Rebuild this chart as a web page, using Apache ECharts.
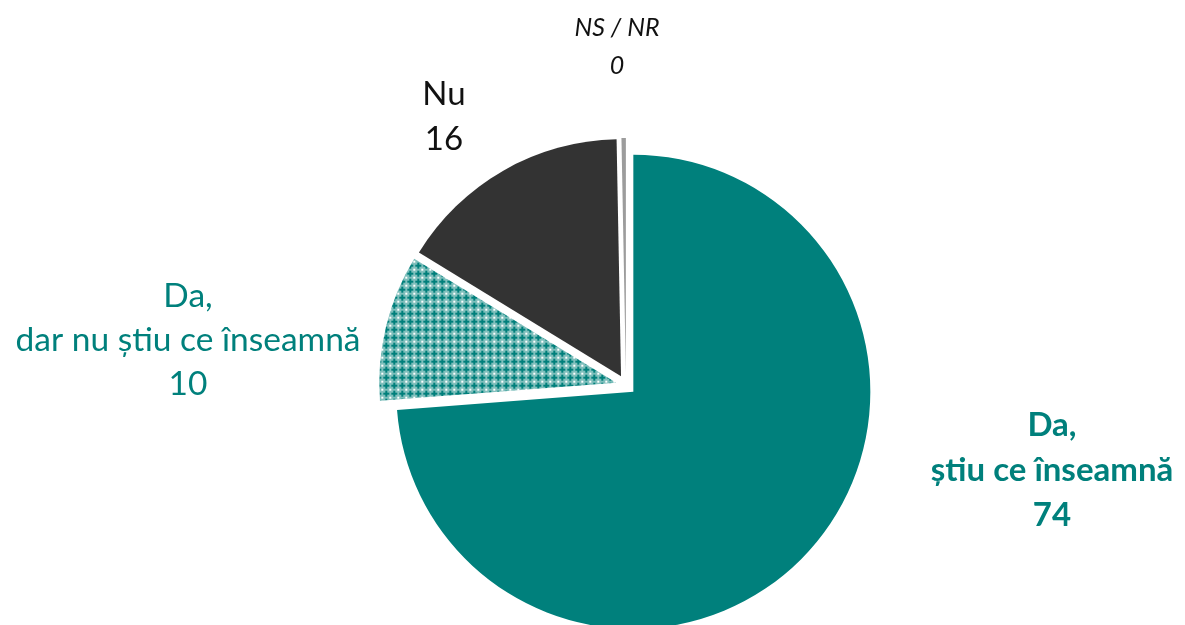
<!DOCTYPE html>
<html>
<head>
<meta charset="utf-8">
<script src="https://cdn.jsdelivr.net/npm/echarts@6/dist/echarts.min.js"></script>
<style>
	html, body { margin: 0; padding: 0; background: #fff; }
	#chart { width: 1185px; height: 625px; }
</style>
</head>
<body>
<div id="chart"></div>
<script>
// categories and values (percent)
const categories = ['Da,\nștiu ce înseamnă', 'Da,\ndar nu știu ce înseamnă', 'Nu', 'NS / NR']
const values = [74, 10, 16, 0.3]
const shownValues = [74, 10, 16, 0]

const TEAL = '#00807c'
const DARK = '#333333'
const GREY = '#9c9c9c'

// motif du secteur hachuré (carreaux)
function makePattern() {
	const c = document.createElement('canvas')
	c.width = 8
	c.height = 8
	const ctx = c.getContext('2d')
	ctx.fillStyle = '#7fbfbc'
	ctx.fillRect(0, 0, 8, 8)
	ctx.fillStyle = '#007f7b'
	ctx.fillRect(3, 1, 2, 6)
	ctx.fillRect(1, 3, 6, 2)
	ctx.fillStyle = '#ffffff'
	ctx.fillRect(0, 0, 1, 1)
	ctx.fillRect(7, 7, 1, 1)
	ctx.fillRect(0, 7, 1, 1)
	ctx.fillRect(7, 0, 1, 1)
	return c
}

const fills = [TEAL, { image: makePattern(), repeat: 'repeat' }, DARK, GREY]

// label styles
const labelStyles = [
	{ fill: TEAL, fontWeight: 'bold', fontSize: 33, lineHeight: 45, fontStyle: 'normal' },
	{ fill: TEAL, fontWeight: 'normal', fontSize: 33.5, lineHeight: 44, fontStyle: 'normal' },
	{ fill: '#111', fontWeight: 'normal', fontSize: 33, lineHeight: 45, fontStyle: 'normal' },
	{ fill: '#111', fontWeight: 'normal', fontSize: 25, lineHeight: 38, fontStyle: 'italic' },
]
// label block centre, px
const labelCentres = [
	[1052, 470],
	[188, 340],
	[444, 117],
	[617, 47],
]

const myChart = echarts.init(document.getElementById('chart'))
const option = {
	animation: false,
	graphic: categories.map((name, i) => ({
		type: 'text',
		x: labelCentres[i][0],
		y: labelCentres[i][1],
		silent: true,
		style: {
			text: name + '\n' + shownValues[i],
			fontFamily: 'Lato',
			align: 'center',
			verticalAlign: 'middle',
			...labelStyles[i],
		},
	})),
	series: [
		{
			type: 'pie',
			center: [626, 385],
			radius: 237,
			startAngle: 90,
			clockwise: true,
			selectedMode: 'multiple',
			selectedOffset: 10,
			emphasis: { disabled: true },
			label: { show: false },
			labelLine: { show: false },
			itemStyle: { borderWidth: 0 },
			data: categories.map((name, i) => ({
				name: name,
				value: values[i],
				selected: true,
				itemStyle: { color: fills[i] },
				select: { itemStyle: { color: fills[i] } },
			})),
		},
	],
}
myChart.setOption(option)
</script>
</body>
</html>
